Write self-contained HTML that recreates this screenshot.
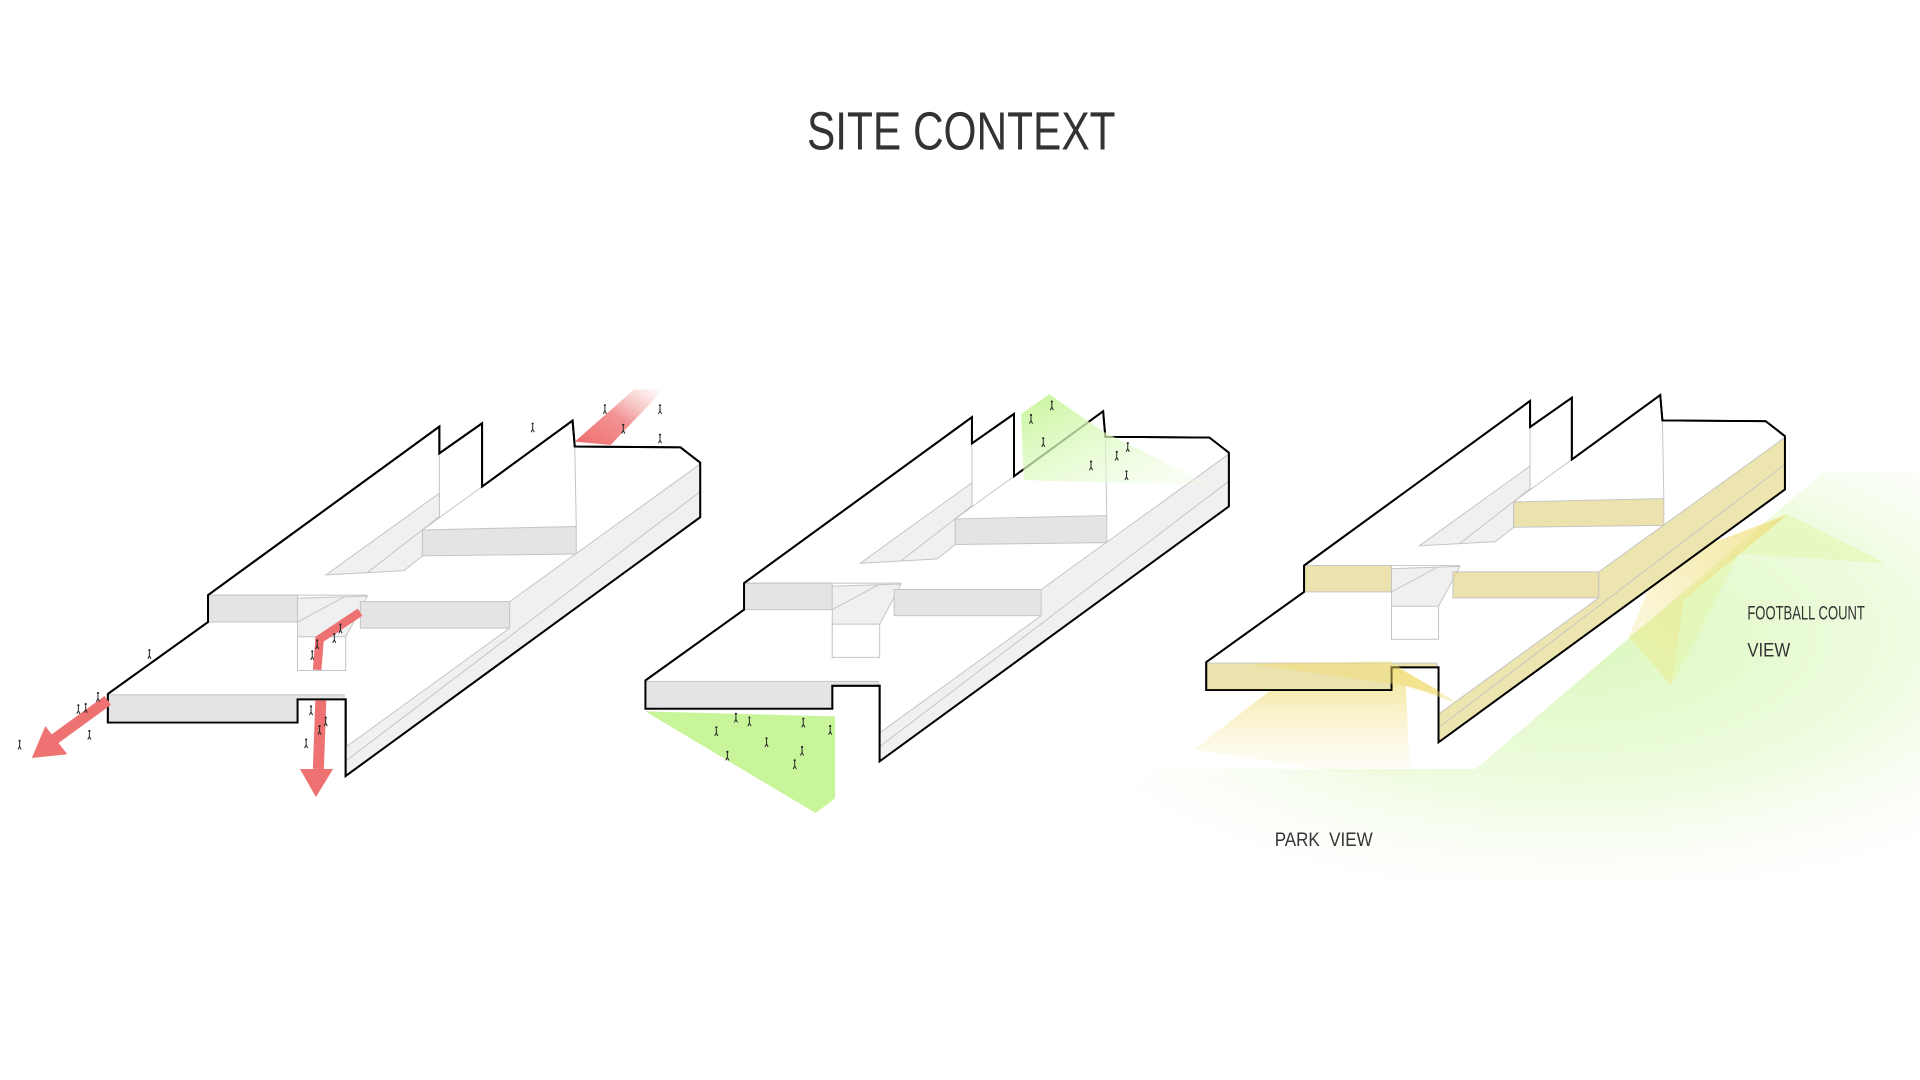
<!DOCTYPE html>
<html><head><meta charset="utf-8"><style>
html,body{margin:0;padding:0;background:#fff;}
svg{display:block;}
.o{fill:#fff;stroke:#000;stroke-width:1.6;stroke-linejoin:miter;}
.g{stroke:#c4c4c4;stroke-width:0.8;fill:none;}
.blk{fill:var(--blk);stroke:#c4c4c4;stroke-width:0.8;}
.side{fill:var(--side);stroke:none;}
.lt{fill:#f0f0f0;stroke:#c4c4c4;stroke-width:0.8;}
.t{font-family:"Liberation Sans Narrow","Liberation Sans",sans-serif;fill:#333;}
</style></head><body>
<svg width="1920" height="1080" viewBox="0 0 1568 882" xmlns="http://www.w3.org/2000/svg">
<defs>
<linearGradient id="rg" x1="0" y1="1" x2="1" y2="0"><stop offset="0" stop-color="#ee6c6c"/><stop offset="0.5" stop-color="#ef7a7a" stop-opacity="0.8"/><stop offset="1" stop-color="#f4a0a0" stop-opacity="0"/></linearGradient>
<linearGradient id="gg1" x1="0" y1="0" x2="1" y2="1"><stop offset="0" stop-color="#c8f59a"/><stop offset="0.6" stop-color="#e2fbc9" stop-opacity="0.6"/><stop offset="1" stop-color="#f0fde3" stop-opacity="0.2"/></linearGradient>
<radialGradient id="gbig" cx="0.6" cy="0.4" r="0.7"><stop offset="0" stop-color="#dcf7bd"/><stop offset="0.55" stop-color="#eafbd8" stop-opacity="0.8"/><stop offset="1" stop-color="#ffffff" stop-opacity="0"/></radialGradient>
<linearGradient id="yc" x1="0" y1="0" x2="0" y2="1"><stop offset="0" stop-color="#efd96a" stop-opacity="0.75"/><stop offset="1" stop-color="#f6ecb0" stop-opacity="0"/></linearGradient>
<linearGradient id="yc2" x1="1" y1="0" x2="0" y2="1"><stop offset="0" stop-color="#efd96a" stop-opacity="0.7"/><stop offset="1" stop-color="#f2e48a" stop-opacity="0.2"/></linearGradient>
<g id="p"><circle cx="0" cy="-3" r="0.9" fill="#222"/><path d="M0,-2 V1.5 M0,1.5 L-1.3,4 M0,1.5 L1.3,4" stroke="#222" stroke-width="0.8" fill="none"/></g>
<g id="bld">
<path class="o" d="M88.1,566.7 L169.9,508 L169.9,486 L358.8,348.4 L358.8,370.2 L393.7,345.7 L393.7,397.4 L467.6,343.5 L469.4,364.7 L555.7,365.3 L571.8,377.8 L571.8,422.4 L282.3,633.7 L282.3,571.1 L243,571.1 L243,590.1 L88.1,590.1 Z"/>
<polygon class="side" points="571.8,378.5 571.8,422.4 282.3,633.7 282.3,609.7 416.2,513 416.2,491.3"/>
<line class="g" x1="571.8" y1="379" x2="416.2" y2="491.3"/>
<line class="g" x1="416.2" y1="513" x2="283" y2="609.7"/>
<line class="g" x1="571.8" y1="401.5" x2="283" y2="621"/>
<line class="g" x1="358.8" y1="370.2" x2="358.8" y2="421.9"/>
<line class="g" x1="469.4" y1="364.7" x2="470.6" y2="430"/>
<line class="g" x1="393.7" y1="397.4" x2="345" y2="432.8"/>
<polygon class="lt" points="266.2,469.5 358.8,402.8 358.8,421.9 345,432.8 345,454 330,466"/>
<line class="g" x1="300" y1="467.6" x2="358.8" y2="421.9"/>
<polygon class="blk" points="345,432.8 470.6,430 470.6,452.4 345,454"/>
<polygon class="blk" points="169.9,486 243,486 243,508 169.9,508"/>
<line class="g" x1="169.9" y1="486" x2="300" y2="486"/>
<polygon class="lt" points="243,488.6 300,486.7 294.3,498 282.3,520 243,547.6"/>
<polygon points="243,520 282.3,520 282.3,547.6 243,547.6" fill="#fff" stroke="#c4c4c4" stroke-width="0.8"/>
<line class="g" x1="243" y1="508" x2="282" y2="487"/>
<polygon class="blk" points="294.3,491.3 416.2,491.3 416.2,513 294.3,513"/>
<polygon class="blk" points="88.1,567.5 281,567.5 281,571 243,571 243,590 88.1,590"/>
<path d="M88.1,566.7 L88.1,590.1 L243,590.1 L243,571.1 L282.3,571.1 L282.3,633.7 L571.8,422.4 L571.8,377.8" fill="none" stroke="#000" stroke-width="1.6"/>
<path d="M88.1,566.7 L169.9,508 L169.9,486 L358.8,348.4 L358.8,370.2 L393.7,345.7 L393.7,397.4 L467.6,343.5 L469.4,364.7 L555.7,365.3 L571.8,377.8" fill="none" stroke="#000" stroke-width="1.6"/>
</g>
</defs>
<rect width="1568" height="882" fill="#fff"/>
<text class="t" x="785" y="122" font-size="44" text-anchor="middle" textLength="252" lengthAdjust="spacingAndGlyphs">SITE CONTEXT</text>

<!-- Building 1 -->
<use href="#bld" style="--blk:#e4e4e4;--side:#f0f0f0"/>
<polygon points="469.4,360.7 498.7,363.4 542,318 518,318" fill="url(#rg)"/>
<path d="M88,572 L44,604" stroke="#ef7272" stroke-width="9" fill="none"/>
<polygon points="26,619 37,593 55,616" fill="#ef7272"/>
<path d="M262,572 L260,628" stroke="#ef7272" stroke-width="9" fill="none"/>
<polygon points="245,628 272,628 258,651" fill="#ef7272"/>
<path d="M259,547 L261,522 L294,500" stroke="#ef7272" stroke-width="7" fill="none"/>
<use href="#p" x="16" y="608"/><use href="#p" x="64" y="579"/><use href="#p" x="70" y="578"/><use href="#p" x="80" y="569"/><use href="#p" x="73" y="600"/>
<use href="#p" x="122" y="534"/><use href="#p" x="255" y="535"/><use href="#p" x="259" y="526"/><use href="#p" x="273" y="521"/><use href="#p" x="278" y="513"/>
<use href="#p" x="254" y="580"/><use href="#p" x="266" y="589"/><use href="#p" x="261" y="596"/><use href="#p" x="250" y="607"/>
<use href="#p" x="435" y="349"/><use href="#p" x="494" y="334"/><use href="#p" x="509" y="350"/><use href="#p" x="539" y="334"/><use href="#p" x="539" y="358"/>

<!-- Building 2 -->
<g transform="translate(527,556) scale(0.985) translate(-88,-567)"><use href="#bld" style="--blk:#e4e4e4;--side:#f0f0f0"/></g>
<polygon points="527,581 682,585 682,652 666,664" fill="#c8f59a"/>
<polygon points="834,338 857,322 900,352 990,397 836,392" fill="url(#gg1)"/>
<use href="#p" x="585" y="597"/><use href="#p" x="601" y="586"/><use href="#p" x="612" y="589"/><use href="#p" x="626" y="606"/><use href="#p" x="594" y="617"/><use href="#p" x="656" y="590"/><use href="#p" x="678" y="596"/><use href="#p" x="655" y="613"/><use href="#p" x="649" y="624"/>
<use href="#p" x="842" y="342"/><use href="#p" x="859" y="331"/><use href="#p" x="852" y="361"/><use href="#p" x="912" y="372"/><use href="#p" x="921" y="365"/><use href="#p" x="891" y="380"/><use href="#p" x="920" y="388"/>

<!-- Building 3 background views -->
<polygon points="860,700 945,628 1205,628 1490,385 1568,385 1568,720 860,720" fill="url(#gbig)"/>
<polygon points="1330,520 1460,420 1540,460 1420,452 1365,560" fill="#e3f5a8" opacity="0.5"/>
<polygon points="975,612 1036,565 1010,545 1135,542 1190,572 1148,560 1152,640" fill="url(#yc)"/>
<polygon points="1330,520 1355,460 1460,420 1375,490 1365,560" fill="url(#yc2)"/>
<g transform="translate(985,541) scale(0.977) translate(-88,-567)"><use href="#bld" style="--blk:rgba(226,214,140,0.7);--side:rgba(230,220,150,0.75)"/></g>
<polygon points="1018,542 1135,540 1190,574 1148,560" fill="#f0dd70" opacity="0.45"/>

<text class="t" x="1427" y="506" font-size="15.5" textLength="96" lengthAdjust="spacingAndGlyphs">FOOTBALL COUNT</text>
<text class="t" x="1427" y="536" font-size="15.5" textLength="35" lengthAdjust="spacingAndGlyphs">VIEW</text>
<text class="t" x="1041" y="691" font-size="15.5" xml:space="preserve" textLength="80" lengthAdjust="spacingAndGlyphs">PARK  VIEW</text>
</svg>
</body></html>
